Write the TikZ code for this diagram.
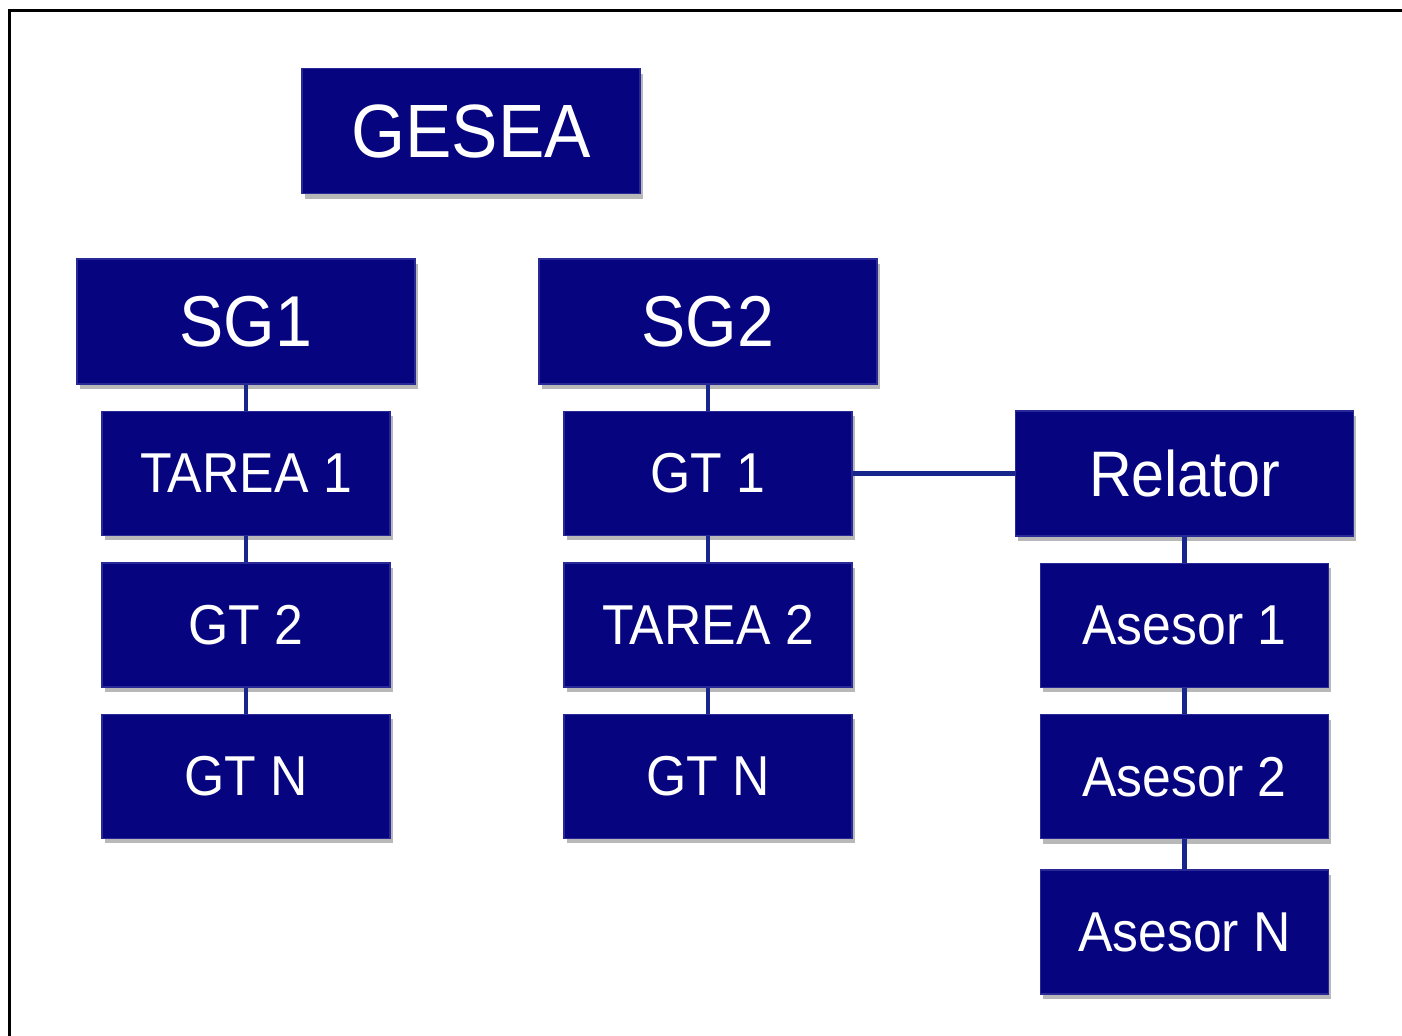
\documentclass[tikz,border=0pt]{standalone}
\usepackage{fontspec}
\setmainfont{Liberation Sans}[FakeStretch=0.92]
\usepackage{tikz}
\usetikzlibrary{positioning,shadows}
\definecolor{navybox}{RGB}{6,4,126}
\definecolor{navyedge}{RGB}{40,40,150}
\definecolor{navyline}{RGB}{22,38,140}
\tikzset{
  unit/.style={fill=navybox, draw=navyedge, line width=0.4pt, text=white, inner sep=0pt,
    drop shadow={shadow xshift=0.03cm, shadow yshift=-0.05cm, opacity=0.28, fill=black}},
  bigbox/.style={unit, minimum width=3.38cm, minimum height=1.25cm, font=\fontsize{20.5}{24}\selectfont},
  smallbox/.style={unit, minimum width=2.88cm, minimum height=1.24cm, font=\fontsize{16}{19}\selectfont},
  link/.style={navyline, line width=1.4pt},
}
\begin{document}
\begin{tikzpicture}[node distance=0.26cm]
      \useasboundingbox (0,0) rectangle (14.02,-10.36);
      \draw[line width=0.03cm] (0.095,-10.36) -- (0.095,-0.105) -- (14.02,-0.105);

      \node[bigbox, font=\fontsize{21.5}{25}\selectfont] (gesea) at (4.71,-1.31) {GESEA};
      \node[bigbox] (sg1) at (2.46,-3.215) {SG1};
      \node[bigbox] (sg2) at (7.08,-3.215) {SG2};

      \node[smallbox, below=of sg1] (tarea1) {TAREA 1};
      \node[smallbox, below=of tarea1] (gt2) {GT 2};
      \node[smallbox, below=of gt2] (gtn1) {GT N};

      \node[smallbox, below=of sg2] (gt1) {GT 1};
      \node[smallbox, below=of gt1] (tarea2) {TAREA 2};
      \node[smallbox, below=of tarea2] (gtn2) {GT N};

      \node[bigbox, right=1.62cm of gt1, font=\fontsize{18.3}{22}\selectfont] (relator) {Relator};
      \node[smallbox, below=of relator] (asesor1) {Asesor 1};
      \node[smallbox, below=of asesor1] (asesor2) {Asesor 2};
      \node[smallbox, below=0.30cm of asesor2] (asesorn) {Asesor N};

      \draw[link] (sg1) -- (tarea1);
      \draw[link] (tarea1) -- (gt2);
      \draw[link] (gt2) -- (gtn1);
      \draw[link] (sg2) -- (gt1);
      \draw[link] (gt1) -- (tarea2);
      \draw[link] (tarea2) -- (gtn2);
      \draw[link] (gt1) -- (relator);
      \draw[link] (relator) -- (asesor1);
      \draw[link] (asesor1) -- (asesor2);
      \draw[link] (asesor2) -- (asesorn);
    \end{tikzpicture}
\end{document}
